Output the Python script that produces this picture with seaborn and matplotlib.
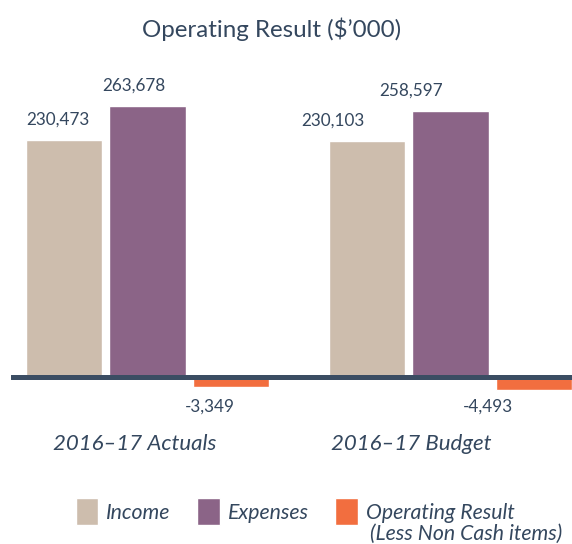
"""Operating Result ($'000) grouped bar chart."""

import matplotlib.pyplot as plt
import numpy as np
import pandas as pd
import seaborn as sns

periods = ["2016–17 Actuals", "2016–17 Budget"]
series = ["Income", "Expenses", "Operating Result"]
income = [230473, 230103]
expenses = [263678, 258597]
operating_result = [-3349, -4493]

colors = ["#cdbdad", "#8b6487", "#f26e3f"]
text_color = "#34475e"
axis_color = "#3b4d63"

# label nudges in pixels (per series, per period), copied from the original layout
label_dx = [[-6, -34], [-14, -39], [-21, -46]]
period_dx = [-13, -39]

NEG_STRETCH = 3.0  # the original draws the small negative bars enlarged


def _forward(y):
    y = np.asarray(y, dtype=float)
    return np.where(y < 0, y * NEG_STRETCH, y)


def _inverse(y):
    y = np.asarray(y, dtype=float)
    return np.where(y < 0, y / NEG_STRETCH, y)


df = pd.DataFrame(
    {
        "period": periods * 3,
        "series": [s for s in series for _ in periods],
        "value": income + expenses + operating_result,
    }
)

sns.set_theme(style="white")
plt.rcParams["font.family"] = ["Lato", "DejaVu Sans"]

W, H = 572, 544
fig = plt.figure(figsize=(W / 100, H / 100), dpi=100)
ax = fig.add_axes([11 / W, (H - 395) / H, (W - 11) / W, 335 / H])

sns.barplot(
    data=df,
    x="period",
    y="value",
    hue="series",
    hue_order=series,
    order=periods,
    palette=colors,
    width=0.827,
    gap=0.09,
    saturation=1,
    errorbar=None,
    ax=ax,
)

ax.set_yscale("function", functions=(_forward, _inverse))
ax.set_ylim(-18.5 / 1.025 / NEG_STRETCH * 1000, 316.5 / 1.025 * 1000)
ax.set_xlim(-0.4505, 1.401)
ax.axhline(0, color=axis_color, linewidth=5 * 0.72, zorder=5)

for s_idx, container in enumerate(ax.containers):
    for p_idx, bar in enumerate(container):
        value = df[(df["series"] == series[s_idx]) & (df["period"] == periods[p_idx])]["value"].iloc[0]
        cx = bar.get_x() + bar.get_width() / 2
        if value >= 0:
            xy, dy = (cx, value), 15.5
        else:
            xy, dy = (cx, 0), -35
        ax.annotate(
            f"{value:,.0f}",
            xy=xy,
            xytext=(label_dx[s_idx][p_idx], dy),
            textcoords="offset pixels",
            ha="center",
            va="baseline",
            fontsize=12.3,
            color=text_color,
        )

for p_idx, period in enumerate(periods):
    ax.annotate(
        period,
        xy=(p_idx, 0),
        xytext=(period_dx[p_idx], -73),
        textcoords="offset pixels",
        ha="center",
        va="baseline",
        fontsize=16,
        style="italic",
        color=text_color,
    )

ax.set_xlabel("")
ax.set_ylabel("")
ax.set_xticks([])
ax.set_yticks([])
ax.minorticks_off()
sns.despine(ax=ax, left=True, bottom=True)

fig.text(
    272 / W,
    1 - 37 / H,
    "Operating Result ($’000)",
    ha="center",
    va="baseline",
    fontsize=17.4,
    color=text_color,
)

handles, labels = ax.get_legend_handles_labels()
ax.legend_.remove()
leg = fig.legend(
    handles,
    labels,
    loc="upper left",
    bbox_to_anchor=(76 / W, 1 - 498 / H),
    ncol=3,
    frameon=False,
    borderpad=0,
    borderaxespad=0,
    handlelength=1.05,
    handleheight=1.6,
    handletextpad=0.38,
    columnspacing=1.25,
    prop={"size": 15.3, "style": "italic", "family": "Lato"},
)
for text in leg.get_texts():
    text.set_color(text_color)

fig.text(
    370 / W,
    1 - 540 / H,
    "(Less Non Cash items)",
    ha="left",
    va="baseline",
    fontsize=15.3,
    style="italic",
    color=text_color,
)

fig.savefig("out.png", dpi=100)
